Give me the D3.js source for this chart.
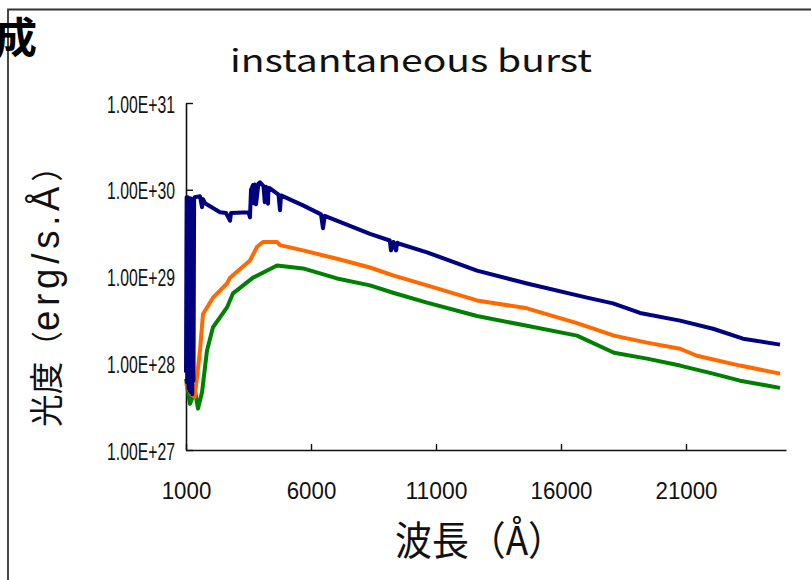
<!DOCTYPE html>
<html><head><meta charset="utf-8">
<script src="https://cdn.jsdelivr.net/npm/d3@7"></script>
<style>
body{margin:0;background:#fff;}
svg{display:block;}
</style></head>
<body>
<svg id="c" width="811" height="580"></svg>
<script>
// ---- data (wavelength in Å, luminosity in erg/s/Å) ----
const titleText = "instantaneous burst";
const xLabel = "波長（Å）";
const yLabelParts = ["光度", "（", "erg/s.Å", "）"];
const xTicks = [1000, 6000, 11000, 16000, 21000];
const yTicks = [1e27, 1e28, 1e29, 1e30, 1e31];

const blueLambda = [1000,1025,1050,1075,1100,1125,1150,1175,1200,1225,1250,1275,1300,1325,1350,1560,1640,1680,1760,2360,2600,2760,2800,3500,3560,3600,3680,3700,3750,3800,3900,3960,4100,4150,4200,4280,4300,4360,4700,4760,4800,5680,6400,6480,6550,8360,9150,9200,9300,9400,9450,9500,10640,12640,14640,17040,18080,19160,20760,22080,23280,24760];
const blueValue  = [7.8e27,8.2e29,6.0e27,8.2e29,5.1e27,8.0e29,4.8e27,8.0e29,4.6e27,7.8e29,4.4e27,7.6e29,6.3e27,8.0e29,8.2e29,8.4e29,6.3e29,7.8e29,7.0e29,5.5e29,5.4e29,4.4e29,5.4e29,5.5e29,4.8e29,1.0e30,1.13e30,7.0e29,1.15e30,6.8e29,1.18e30,1.22e30,1.1e30,7.2e29,1.08e30,6.9e29,1.05e30,1.04e30,8.8e29,5.8e29,8.6e29,6.6e29,5.2e29,3.6e29,5.0e29,3.1e29,2.6e29,2.0e29,2.5e29,2.0e29,2.45e29,2.4e29,1.9e29,1.17e29,8.3e28,5.7e28,4.9e28,3.8e28,3.1e28,2.5e28,1.92e28,1.64e28];

const orangeLambda = [1000,1200,1350,1560,1680,2080,2640,2760,3560,3840,4080,4640,4760,5680,7040,8360,9280,10640,12640,14640,16640,18120,19440,20760,21440,23160,24760];
const orangeValue  = [5.8e27,4.4e27,4.1e27,1.4e28,3.7e28,5.7e28,8.3e28,9.7e28,1.53e29,2.2e29,2.5e29,2.5e29,2.3e29,2.0e29,1.6e29,1.27e29,1.03e29,7.9e28,5.3e28,4.3e28,2.9e28,2.08e28,1.73e28,1.47e28,1.22e28,9.4e27,7.6e27];

const greenLambda = [1000,1160,1360,1480,1640,1840,2080,2640,2880,3680,4640,5680,7040,8360,9280,10640,12640,14640,16640,18120,19440,20760,22080,23160,24760];
const greenValue  = [6.6e27,3.4e27,4.8e27,3.0e27,4.6e27,1.4e28,2.6e28,4.4e28,6.4e28,9.7e28,1.34e29,1.24e29,9.5e28,7.9e28,6.5e28,5.0e28,3.5e28,2.7e28,2.08e28,1.32e28,1.13e28,9.4e27,7.6e27,6.3e27,5.2e27];

const seriesNames = ["blue","orange","green"];
const seriesColors = ["#000080","#ff6a00","#008000"];

// ---- drawing ----
const svg = d3.select("#c");
const fontJP = "'Noto Sans CJK JP','Noto Sans',sans-serif";
const fontNum = "'Liberation Sans','DejaVu Sans',sans-serif";

// frame
svg.append("path").attr("d","M8,580 L8,9.5 L811,9.5").attr("fill","none").attr("stroke","#333").attr("stroke-width",1.8);

// cut-off character top-left
svg.append("text").attr("x",37).attr("y",53).attr("text-anchor","end")
  .attr("font-family",fontJP).attr("font-weight","bold").attr("font-size",42).text("成");

const x = d3.scaleLinear().domain([1000,25000]).range([186,786]);
const y = d3.scaleLog().domain([1e27,1e31]).range([450,103]);

// title
svg.append("text").attr("x",411).attr("y",72).attr("text-anchor","middle")
  .attr("font-family",fontJP).attr("font-size",31).attr("fill","#111")
  .attr("textLength",362).attr("lengthAdjust","spacingAndGlyphs").text(titleText);

// axes
const fmt = v => "1.00E+" + Math.round(Math.log10(v));
const gy = svg.append("g").attr("transform","translate(186,0)")
  .call(d3.axisLeft(y).tickValues(yTicks).tickFormat(fmt).tickSizeInner(-7).tickSizeOuter(0).tickPadding(11));
const gx = svg.append("g").attr("transform","translate(0,450)")
  .call(d3.axisBottom(x).tickValues(xTicks).tickFormat(d3.format("d")).tickSizeInner(-6).tickSizeOuter(0).tickPadding(32));
[gy,gx].forEach(g=>{
  g.attr("font-size",null).attr("font-family",null);
  g.select(".domain").attr("stroke","#111").attr("stroke-width",1.6);
  g.selectAll(".tick line").attr("stroke","#111").attr("stroke-width",1.4);
  g.selectAll("text").attr("font-family",fontNum).style("font-size","24px").attr("fill","#111")
    .attr("lengthAdjust","spacingAndGlyphs");
});
gy.selectAll("text").attr("textLength",68).attr("dy","0.38em");
gx.selectAll("text").attr("textLength",d=>String(d).length*12.4);

// lines
const line = d3.line().x(d=>x(d[0])).y(d=>y(d[1]));
const seriesData = [
  d3.zip(blueLambda, blueValue),
  d3.zip(orangeLambda, orangeValue),
  d3.zip(greenLambda, greenValue)
];
// draw green, orange, then blue on top
[2,1,0].forEach(i=>{
  svg.append("path").datum(seriesData[i]).attr("class","series-"+seriesNames[i])
    .attr("d",line).attr("fill","none").attr("stroke",seriesColors[i])
    .attr("stroke-width",4).attr("stroke-linejoin","round");
});

// axis labels
const yl = svg.append("text").attr("transform","translate(59,289) rotate(-90)").attr("text-anchor","middle")
  .attr("font-family",fontJP).attr("fill","#111")
  .attr("textLength",276).attr("lengthAdjust","spacingAndGlyphs");
yl.append("tspan").attr("font-size",34).text(yLabelParts[0]);
yl.append("tspan").attr("font-size",32).text(yLabelParts[1]);
yl.append("tspan").attr("font-family",fontNum).attr("font-size",38).attr("letter-spacing",5).text(yLabelParts[2]);
yl.append("tspan").attr("font-size",32).text(yLabelParts[3]);

svg.append("text").attr("x",480).attr("y",555).attr("text-anchor","middle")
  .attr("font-family",fontJP).attr("font-size",40).attr("fill","#111")
  .attr("textLength",170).attr("lengthAdjust","spacingAndGlyphs").text(xLabel);
</script>
</body></html>
